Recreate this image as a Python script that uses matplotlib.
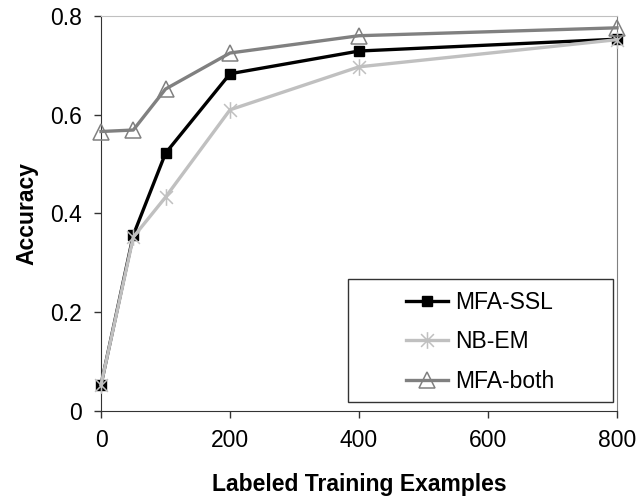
import numpy as np
import matplotlib
matplotlib.use("Agg")
import matplotlib.pyplot as plt
from matplotlib.path import Path
from matplotlib.patches import Rectangle

plt.rcParams["font.family"] = ["Liberation Sans", "DejaVu Sans"]

# data
labeled = [0, 50, 100, 200, 400, 800]
mfa_ssl = [0.053, 0.356, 0.522, 0.683, 0.729, 0.753]
nb_em = [0.053, 0.352, 0.433, 0.610, 0.697, 0.752]
mfa_both = [0.566, 0.569, 0.652, 0.725, 0.760, 0.776]

x_ticks = [0, 200, 400, 600, 800]
y_ticks = [0, 0.2, 0.4, 0.6, 0.8]
y_tick_labels = ["0", "0.2", "0.4", "0.6", "0.8"]

# Excel style star marker: X plus a vertical stroke
star = Path([(-1, -1), (1, 1), (-1, 1), (1, -1), (0, -1.3), (0, 1.3)],
            [Path.MOVETO, Path.LINETO, Path.MOVETO, Path.LINETO, Path.MOVETO, Path.LINETO])

fig = plt.figure(figsize=(6.41, 4.99), dpi=100)
ax = fig.add_axes([0.1576, 0.1764, 0.805, 0.7916])

ax.plot(labeled, mfa_ssl, color="black", lw=2.4, marker="s", ms=6.5,
        mfc="black", mec="black", label="MFA-SSL", zorder=2, clip_on=False)
ax.plot(labeled, nb_em, color="#c0c0c0", lw=2.4, marker=star, ms=12,
        mec="#c0c0c0", mew=1.1, label="NB-EM", zorder=3, clip_on=False)
ax.plot(labeled, mfa_both, color="#808080", lw=2.4, marker="^", ms=11,
        mfc="none", mec="#808080", mew=1.1, label="MFA-both", zorder=4, clip_on=False)

ax.set_xlim(0, 800)
ax.set_ylim(0, 0.8)
ax.set_xticks(x_ticks)
ax.set_yticks(y_ticks)
ax.set_yticklabels(y_tick_labels)
ax.tick_params(axis="both", labelsize=16.5, length=5, width=1, direction="out",
               colors="#333333", labelcolor="black")
ax.tick_params(axis="y", pad=9)
ax.tick_params(axis="x", pad=8)
ax.spines["left"].set_color("#333333")
ax.spines["bottom"].set_color("#333333")
ax.spines["top"].set_color("#c0c0c0")
ax.spines["right"].set_color("#808080")

ax.set_xlabel("Labeled Training Examples", fontsize=16.5, fontweight="bold", labelpad=15)
ax.set_ylabel("Accuracy", fontsize=16.5, fontweight="bold", labelpad=8)

# legend frame drawn separately, entries centred inside like Excel
ax.add_patch(Rectangle((0.479, 0.023), 0.513, 0.311, transform=ax.transAxes,
                       fill=False, edgecolor="#333333", lw=1, zorder=5, clip_on=False))
ax.legend(loc="center", bbox_to_anchor=(0.7355, 0.175), frameon=False,
          fontsize=16.5, handlelength=1.8, handletextpad=0.35, labelspacing=0.72)

fig.savefig("out.png", dpi=100)
